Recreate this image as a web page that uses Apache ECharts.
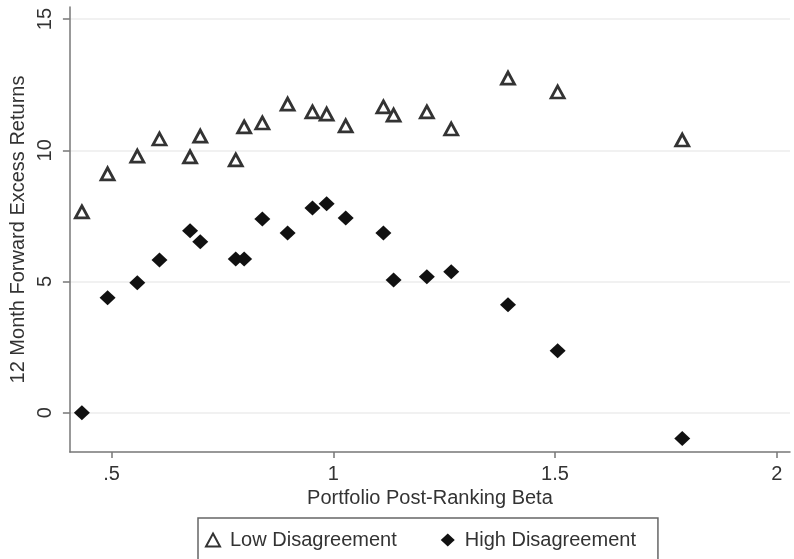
<!DOCTYPE html>
<html>
<head>
<meta charset="utf-8">
<script src="https://cdn.jsdelivr.net/npm/echarts@6/dist/echarts.min.js"></script>
<style>
html,body{margin:0;padding:0;background:#fff;}
#c{width:794px;height:559px;}
</style>
</head>
<body>
<div id="c"></div>
<script>
const betas = [0.433, 0.491, 0.558, 0.608, 0.677, 0.700, 0.780, 0.799, 0.840, 0.897, 0.953, 0.985, 1.028, 1.113, 1.136, 1.211, 1.266, 1.394, 1.506, 1.787];
const lowDisagreement = [7.65, 9.10, 9.78, 10.43, 9.75, 10.54, 9.63, 10.89, 11.04, 11.76, 11.46, 11.38, 10.93, 11.65, 11.34, 11.46, 10.81, 12.75, 12.22, 10.39];
const highDisagreement = [0.0, 4.38, 4.95, 5.82, 6.93, 6.51, 5.86, 5.86, 7.38, 6.85, 7.80, 7.96, 7.42, 6.85, 5.06, 5.18, 5.37, 4.11, 2.36, -0.99];
const xTicks = [0.5, 1, 1.5, 2];
const xTickLabels = ['.5', '1', '1.5', '2'];
const yTicks = [0, 5, 10, 15];
const yTickLabels = ['0', '5', '10', '15'];

const chart = echarts.init(document.getElementById('c'));
const font = 'Liberation Sans, Arial, Helvetica, sans-serif';
chart.setOption({
  animation: false,
  backgroundColor: '#fff',
  grid: {left: 67, right: 4, top: 7, bottom: 107, containLabel: false},
  xAxis: {
    type: 'value', min: 0.406, max: 2.03,
    name: 'Portfolio Post-Ranking Beta', nameLocation: 'middle', nameGap: 36,
    nameTextStyle: {fontFamily: font, fontSize: 20, color: '#333'},
    axisLine: {show: true, onZero: false, lineStyle: {color: '#777', width: 1.5}},
    axisTick: {show: true, length: 6, lineStyle: {color: '#777', width: 1.5}, customValues: xTicks},
    axisLabel: {fontFamily: font, fontSize: 20, color: '#333', margin: 12, customValues: xTicks,
      formatter: v => xTickLabels[xTicks.indexOf(v)] ?? ''},
    splitLine: {show: false}
  },
  yAxis: {
    type: 'value', min: -1.5, max: 15.46,
    name: '12 Month Forward Excess Returns', nameLocation: 'middle', nameGap: 40,
    nameTextStyle: {fontFamily: font, fontSize: 20, color: '#333'},
    axisLine: {show: true, onZero: false, lineStyle: {color: '#777', width: 1.5}},
    axisTick: {show: true, length: 7, lineStyle: {color: '#777', width: 1.5}, customValues: yTicks},
    axisLabel: {fontFamily: font, fontSize: 20, color: '#333', rotate: 90, margin: 14, customValues: yTicks,
      formatter: v => yTickLabels[yTicks.indexOf(v)] ?? ''},
    splitLine: {show: true, lineStyle: {color: '#ececec', width: 1.5}}
  },
  legend: {
    left: 198, top: 518,
    padding: [12, 22, 14, 7],
    itemGap: 44, itemWidth: 14, itemHeight: 13,
    borderColor: '#666', borderWidth: 1.5,
    textStyle: {fontFamily: font, fontSize: 20, color: '#333', padding: [0, 0, 0, 5]},
    data: ['Low Disagreement', 'High Disagreement']
  },
  series: [
    {
      name: 'Low Disagreement', type: 'scatter', symbol: 'triangle', symbolSize: [13, 12],
      itemStyle: {color: '#fff', borderColor: '#333', borderWidth: 2.8, opacity: 1},
      data: betas.map((b, i) => [b, lowDisagreement[i]])
    },
    {
      name: 'High Disagreement', type: 'scatter', symbol: 'diamond', symbolSize: [16, 15],
      itemStyle: {color: '#111', opacity: 1},
      data: betas.map((b, i) => [b, highDisagreement[i]])
    }
  ]
});
</script>
</body>
</html>
